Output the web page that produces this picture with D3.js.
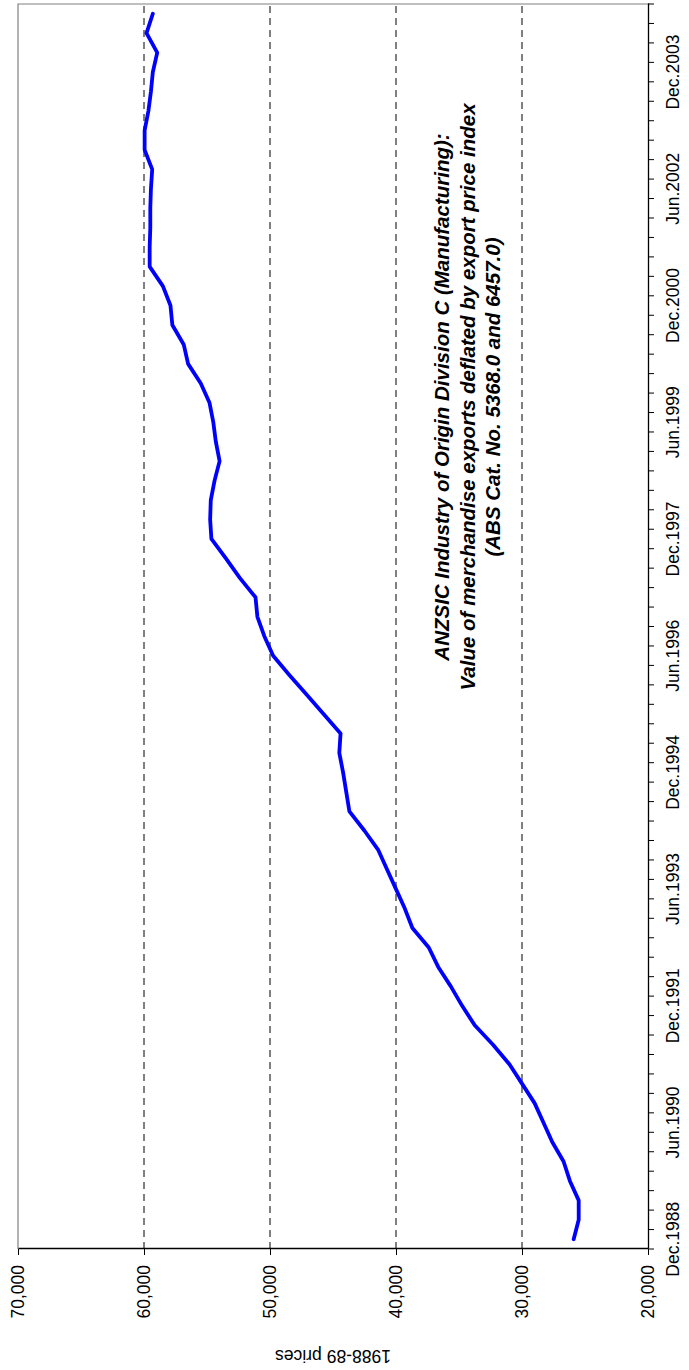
<!DOCTYPE html>
<html>
<head>
<meta charset="utf-8">
<script src="https://cdn.jsdelivr.net/npm/d3@7"></script>
<style>
  html, body { margin: 0; padding: 0; background: #fff; }
  svg { display: block; font-family: "Liberation Sans", Arial, sans-serif; }
</style>
</head>
<body>
<svg id="chart" width="689" height="1370"></svg>
<script>
// ---- Data ----
const categories = [
  "Dec.1988","Mar.1989","Jun.1989","Sep.1989","Dec.1989","Mar.1990","Jun.1990","Sep.1990",
  "Dec.1990","Mar.1991","Jun.1991","Sep.1991","Dec.1991","Mar.1992","Jun.1992","Sep.1992",
  "Dec.1992","Mar.1993","Jun.1993","Sep.1993","Dec.1993","Mar.1994","Jun.1994","Sep.1994",
  "Dec.1994","Mar.1995","Jun.1995","Sep.1995","Dec.1995","Mar.1996","Jun.1996","Sep.1996",
  "Dec.1996","Mar.1997","Jun.1997","Sep.1997","Dec.1997","Mar.1998","Jun.1998","Sep.1998",
  "Dec.1998","Mar.1999","Jun.1999","Sep.1999","Dec.1999","Mar.2000","Jun.2000","Sep.2000",
  "Dec.2000","Mar.2001","Jun.2001","Sep.2001","Dec.2001","Mar.2002","Jun.2002","Sep.2002",
  "Dec.2002","Mar.2003","Jun.2003","Sep.2003","Dec.2003","Mar.2004","Jun.2004","Sep.2004"
];
const exportValues = [
  25900, 25500, 25500, 26200, 26700, 27600, 28300, 29000,
  30000, 31000, 32300, 33750, 34750, 35650, 36650, 37400,
  38700, 39300, 40000, 40700, 41400, 42500, 43700, 43950,
  44200, 44500, 44400, 45750, 47100, 48450, 49750, 50450,
  51000, 51150, 52400, 53500, 54650, 54750, 54700, 54400,
  54000, 54300, 54500, 54800, 55500, 56500, 56850, 57750,
  57900, 58500, 59550, 59550, 59500, 59500, 59450, 59350,
  59950, 59950, 59650, 59450, 59300, 58950, 59800, 59300
];
const categoryLabels = ["Dec.1988","Jun.1990","Dec.1991","Jun.1993","Dec.1994","Jun.1996",
  "Dec.1997","Jun.1999","Dec.2000","Jun.2002","Dec.2003"];
const valueTicks = [20000, 30000, 40000, 50000, 60000, 70000];
const gridValues = [30000, 40000, 50000, 60000];
const axisTitle = "1988-89 prices";
const annotation = [
  "ANZSIC Industry of Origin Division C (Manufacturing):",
  "Value of merchandise exports deflated by export price index",
  "(ABS Cat. No. 5368.0 and 6457.0)"
];

// ---- Layout (chart drawn landscape, then rotated -90deg) ----
const svg = d3.select("#chart");
const g = svg.append("g").attr("transform", "translate(0,1370) rotate(-90)");

const pL = 121, pR = 1366, pT = 18, pB = 648;
const x = d3.scaleBand().domain(categories).range([pL, pR]).padding(0);
const y = d3.scaleLinear().domain([20000, 70000]).range([pB, pT]);
const bw = x.bandwidth();

// gridlines
g.append("g").selectAll("line").data(gridValues).join("line")
  .attr("x1", pL).attr("x2", pR)
  .attr("y1", d => y(d)).attr("y2", d => y(d))
  .attr("stroke", "#000").attr("stroke-width", 1)
  .attr("stroke-dasharray", "7,5");

// plot border (top & right, grey)
g.append("path")
  .attr("d", `M${pL},${pT}H${pR}V${pB}`)
  .attr("fill", "none").attr("stroke", "#808080").attr("stroke-width", 1.2);

// category axis
const xAxis = g.append("g").attr("transform", `translate(0,${pB})`)
  .call(d3.axisBottom(x).tickValues(categoryLabels).tickSize(0).tickSizeOuter(0).tickPadding(19));
xAxis.select(".domain").attr("stroke", "#000").attr("stroke-width", 1.3);
xAxis.selectAll("text").attr("font-size", "17.5px").attr("fill", "#000")
  .attr("font-family", "'Liberation Sans', Arial, sans-serif");

// category boundary ticks
const boundaries = categories.map(c => x(c)).concat([pR]);
g.append("g").selectAll("line").data(boundaries).join("line")
  .attr("x1", d => d).attr("x2", d => d)
  .attr("y1", pB).attr("y2", pB + 6)
  .attr("stroke", "#000").attr("stroke-width", 1);

// value axis
const yAxis = g.append("g").attr("transform", `translate(${pL},0)`)
  .call(d3.axisLeft(y).tickValues(valueTicks).tickFormat(d3.format(",")).tickSize(6).tickSizeOuter(0).tickPadding(10));
yAxis.select(".domain").attr("stroke", "#000").attr("stroke-width", 1.3);
yAxis.selectAll(".tick line").attr("stroke", "#000");
yAxis.selectAll("text").attr("font-size", "17.5px").attr("fill", "#000")
  .attr("font-family", "'Liberation Sans', Arial, sans-serif");

// axis title
g.append("text")
  .attr("transform", `translate(14,${(pT + pB) / 2}) rotate(-90)`)
  .attr("text-anchor", "middle").attr("dy", "0.35em")
  .attr("font-size", "17.5px").attr("fill", "#000")
  .text(axisTitle);

// series line
const line = d3.line()
  .x((d, i) => x(categories[i]) + bw / 2)
  .y(d => y(d));
g.append("path").datum(exportValues)
  .attr("d", line)
  .attr("fill", "none").attr("stroke", "#0000FF")
  .attr("stroke-width", 3.8).attr("stroke-linejoin", "round").attr("stroke-linecap", "round");

// annotation
const ann = g.append("text")
  .attr("text-anchor", "middle")
  .attr("font-size", "20.5px").attr("font-weight", "bold").attr("font-style", "italic")
  .attr("fill", "#000");
ann.selectAll("tspan").data(annotation).join("tspan")
  .attr("x", 973)
  .attr("y", (d, i) => 449 + i * 25.5)
  .text(d => d);
</script>
</body>
</html>
